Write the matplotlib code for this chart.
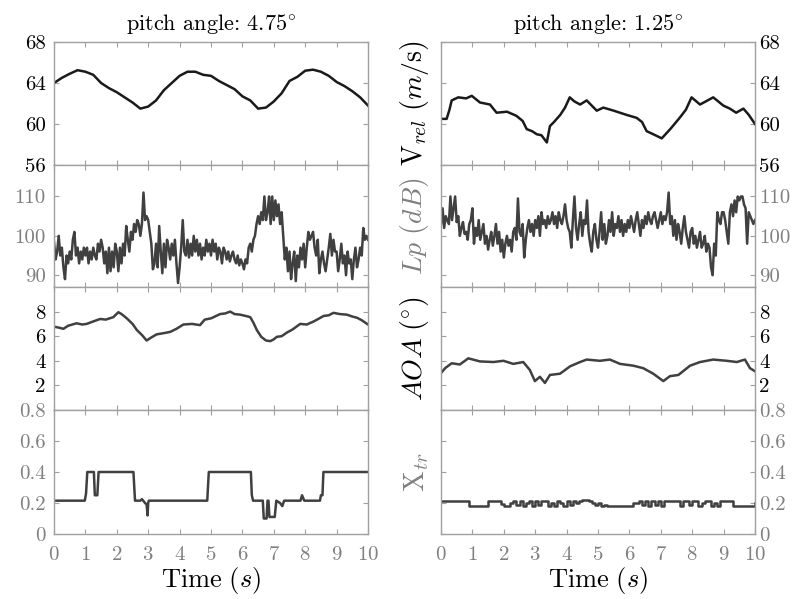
import numpy as np
import matplotlib
matplotlib.use('Agg')
import matplotlib.pyplot as plt

plt.rcParams['font.family'] = ['cmr10', 'DejaVu Serif']
plt.rcParams['mathtext.fontset'] = 'cm'
plt.rcParams['axes.unicode_minus'] = False
plt.rcParams['axes.formatter.use_mathtext'] = True

# ---- data ----
titles = ['pitch angle: $4.75^{\\circ}$', 'pitch angle: $1.25^{\\circ}$']

# relative velocity, sampled every 0.25 s (left) / irregular (right)
t_v_left = np.arange(0, 10.01, 0.25)
v_left = [64.0, 64.5, 64.9, 65.25, 65.1, 64.8, 64.0, 63.5, 63.1, 62.6, 62.1,
          61.5, 61.7, 62.3, 63.3, 64.0, 64.7, 65.1, 65.1, 64.8, 64.7, 64.2,
          63.8, 63.4, 62.7, 62.3, 61.5, 61.6, 62.2, 63.0, 64.2, 64.6, 65.2,
          65.3, 65.1, 64.7, 64.1, 63.7, 63.2, 62.6, 61.8]
t_v_right = [0, 0.18, 0.27, 0.34, 0.55, 0.8, 0.98, 1.24, 1.4, 1.56, 1.77, 2.1,
             2.4, 2.6, 2.73, 2.9, 3.05, 3.2, 3.37, 3.47, 3.6, 3.8, 3.95, 4.1,
             4.25, 4.43, 4.64, 4.96, 5.17, 5.5, 5.9, 6.23, 6.4, 6.55, 6.76,
             7.03, 7.3, 7.6, 7.8, 7.98, 8.25, 8.67, 8.99, 9.2, 9.4, 9.63, 9.8,
             10]
v_right = [60.5, 60.5, 61.4, 62.3, 62.6, 62.5, 62.75, 62.1, 62.0, 61.9, 61.1,
           61.2, 60.8, 60.3, 59.5, 59.3, 59.0, 58.9, 58.2, 59.8, 60.2, 60.9,
           61.6, 62.6, 62.2, 61.9, 62.3, 61.3, 61.6, 61.3, 60.9, 60.6, 60.2,
           59.3, 59.0, 58.6, 59.5, 60.6, 61.4, 62.6, 61.9, 62.6, 61.8, 61.5,
           61.1, 61.5, 60.9, 60.0]

# sound pressure level, sampled every 0.05 s
t_lp = np.arange(0, 10.001, 0.05)
lp_left = [98.5, 94, 96, 100, 95, 97, 92, 89, 95, 93, 96, 94, 99, 101, 95, 97, 93, 96, 94, 97,
           95, 97, 93, 96, 94, 97, 95, 94, 98, 96, 99, 97, 93, 96, 90.5, 97, 91, 96, 92, 98,
           96, 91, 97, 93, 98, 95, 102.5, 99, 96, 101, 99, 103, 101, 104, 103, 100, 103, 111, 104, 105,
           104, 101, 98, 91.5, 93, 98, 92, 102.5, 96, 90.5, 98, 92, 99, 97, 94, 98, 95, 99, 93, 88,
           92, 97, 104, 96, 95, 99, 94.5, 98, 95, 100, 96, 99, 95, 98, 94, 97, 95, 99, 96, 98,
           95, 99, 96, 98, 94, 97, 96, 93, 97, 96, 94, 96, 93.5, 95, 96, 94, 93, 95, 92.5, 94,
           93, 91.5, 94, 93, 97, 98, 96, 99, 100, 103, 105, 103, 106, 104, 110, 104, 106, 110, 103, 110,
           104, 109, 105, 108, 103, 106, 100, 94, 97, 91, 96, 89, 93, 96, 88.5, 95, 92, 97, 94, 98,
           92, 97, 101, 99, 100, 101, 97, 95, 99, 90.5, 94, 96, 93, 91, 94, 97, 100.5, 95, 99, 96,
           96, 91, 94, 98, 93, 95, 90, 96, 93, 94, 89, 94, 97, 92, 94, 97, 95, 102, 99, 100,
           99]
lp_right = [103, 107, 102, 105, 104, 103, 110, 104, 107, 110, 103.5, 105, 100, 102, 103.5, 100.5, 101, 99, 103, 104,
            107, 98, 102, 100, 104, 99, 101, 103, 98, 100, 96.5, 99, 101, 97.5, 100, 103, 98, 101, 96, 99,
            94.5, 98, 100, 97.5, 99, 96, 101, 102, 99, 109.5, 101, 100, 103, 94.5, 99, 102, 104, 101, 103, 100,
            104, 102, 105, 100, 106, 103, 104, 102, 105, 103, 104, 106, 103, 105, 102, 106, 104, 103, 105, 108,
            104, 102, 101, 97, 104, 110, 102, 99, 103, 106, 100, 104, 103, 109, 101, 98, 96, 101, 103, 99,
            97, 101, 106, 99, 103, 98, 100, 104, 101, 106, 100, 103, 102, 105, 101, 104, 100, 103, 101, 104,
            102, 105, 103, 101, 104, 106, 103, 100, 104, 102, 105, 103, 106, 104, 103, 105, 106, 104, 102, 104,
            106, 103, 105, 104, 106, 111, 103, 105, 100, 104, 99, 103, 101, 98, 102, 105, 101, 99, 97, 101,
            102, 98, 100, 97, 99, 101, 97, 98, 100, 96, 98, 97, 92, 90, 98, 95, 106, 104, 103, 106,
            106, 104, 101, 98, 106, 108, 105, 109, 106, 110, 109, 110, 110, 108, 107, 98, 106, 105, 104, 103,
            104]

# angle of attack
t_aoa_left = [0, 0.15, 0.3, 0.45, 0.72, 0.9, 1.04, 1.25, 1.47, 1.65, 1.89, 2.05,
              2.15, 2.32, 2.5, 2.64, 2.8, 2.95, 3.1, 3.27, 3.5, 3.7, 3.9, 4.12,
              4.4, 4.65, 4.8, 5.0, 5.29, 5.45, 5.61, 5.75, 5.93, 6.1, 6.25,
              6.35, 6.46, 6.6, 6.75, 6.89, 7.0, 7.1, 7.25, 7.42, 7.6, 7.84,
              8.05, 8.27, 8.45, 8.59, 8.75, 8.9, 9.1, 9.33, 9.5, 9.65, 9.8, 10]
aoa_left = [6.77, 6.7, 6.6, 6.85, 7.05, 6.95, 7.0, 7.2, 7.4, 7.35, 7.55, 7.95,
            7.8, 7.45, 7.0, 6.5, 6.1, 5.65, 5.9, 6.15, 6.25, 6.35, 6.6, 6.95,
            7.0, 6.9, 7.35, 7.45, 7.8, 7.85, 8.0, 7.8, 7.75, 7.65, 7.55, 7.1,
            6.5, 5.95, 5.65, 5.6, 5.75, 5.95, 6.0, 6.3, 6.55, 7.0, 6.95, 7.2,
            7.45, 7.65, 7.7, 7.9, 7.8, 7.75, 7.6, 7.5, 7.3, 6.95]
t_aoa_right = [0, 0.13, 0.34, 0.6, 0.87, 1.24, 1.67, 1.99, 2.3, 2.62, 2.83,
               2.99, 3.15, 3.31, 3.47, 3.79, 4.11, 4.43, 4.64, 5.06, 5.38, 5.7,
               6.13, 6.44, 6.76, 7.08, 7.29, 7.56, 7.93, 8.25, 8.67, 9.1, 9.42,
               9.68, 9.84, 10]
aoa_right = [3.0, 3.4, 3.8, 3.7, 4.2, 3.95, 3.9, 4.0, 3.75, 3.9, 3.25, 2.35,
             2.7, 2.2, 2.85, 2.95, 3.55, 3.9, 4.1, 4.0, 4.1, 3.75, 3.6, 3.4,
             2.95, 2.35, 2.75, 2.85, 3.6, 3.9, 4.1, 4.0, 3.9, 4.1, 3.4, 3.15]

# transition location
t_x_left = [0, 0.98, 1.02, 1.06, 1.27, 1.3, 1.38, 1.42, 2.53, 2.58, 2.75, 2.8,
            2.9, 2.95, 2.98, 3.0, 3.02, 4.88, 4.93, 6.27, 6.3, 6.34, 6.65, 6.68,
            6.77, 6.8, 6.83, 6.86, 7.03, 7.08, 7.2, 7.27, 7.33, 7.85, 7.9, 7.97,
            8.47, 8.5, 8.55, 8.58, 10]
x_left = [0.215, 0.215, 0.26, 0.4, 0.4, 0.25, 0.25, 0.4, 0.4, 0.215, 0.215,
          0.225, 0.2, 0.19, 0.12, 0.2, 0.215, 0.215, 0.4, 0.4, 0.25, 0.215,
          0.215, 0.1, 0.1, 0.215, 0.215, 0.11, 0.11, 0.215, 0.2, 0.18, 0.215,
          0.215, 0.25, 0.215, 0.215, 0.25, 0.25, 0.4, 0.4]
t_x_right = np.arange(0, 10.001, 0.1)
x_right = [0.215, 0.215, 0.215, 0.215, 0.215, 0.215, 0.21, 0.21, 0.21, 0.18,
           0.18, 0.18, 0.18, 0.18, 0.18, 0.215, 0.215, 0.215, 0.215, 0.195,
           0.18, 0.18, 0.2, 0.215, 0.19, 0.215, 0.18, 0.2, 0.215, 0.18,
           0.215, 0.19, 0.215, 0.215, 0.18, 0.2, 0.18, 0.215, 0.2, 0.18,
           0.215, 0.19, 0.215, 0.2, 0.215, 0.22, 0.22, 0.215, 0.2, 0.19,
           0.2, 0.18, 0.19, 0.18, 0.18, 0.18, 0.18, 0.18, 0.18, 0.18,
           0.18, 0.2, 0.2, 0.215, 0.19, 0.215, 0.18, 0.215, 0.19, 0.215,
           0.18, 0.215, 0.215, 0.215, 0.215, 0.215, 0.18, 0.215, 0.215, 0.19,
           0.215, 0.215, 0.18, 0.2, 0.215, 0.215, 0.18, 0.2, 0.18, 0.215,
           0.215, 0.215, 0.215, 0.18, 0.18, 0.18, 0.18, 0.18, 0.18, 0.18,
           0.2]

series = [
    [(t_v_left, v_left), (t_v_right, v_right)],
    [(t_lp, lp_left), (t_lp, lp_right)],
    [(t_aoa_left, aoa_left), (t_aoa_right, aoa_right)],
    [(t_x_left, x_left), (t_x_right, x_right)],
]
ylabels = [r'$\mathrm{V}_{rel}\ (m/\mathrm{s})$', r'$Lp\ (dB)$',
           r'$AOA\ (^{\circ})$', r'$\mathrm{X}_{tr}$']
ylims = [(56, 68), (87, 118), (0, 10), (0, 0.8)]
yticks = [[56, 60, 64, 68], [90, 100, 110], [2, 4, 6, 8],
          [0, 0.2, 0.4, 0.6, 0.8]]
yticklabels = [['56', '60', '64', '68'], ['90', '100', '110'],
               ['2', '4', '6', '8'], ['0', '0.2', '0.4', '0.6', '0.8']]
row_colors = ['black', '#808080', 'black', '#808080']
line_colors = ['#1a1a1a', '#404040', '#404040', '#404040']

# ---- layout ----
fig = plt.figure(figsize=(7.98, 5.99), dpi=100)
W, H = 798, 599
col_x = [54, 441]
col_w = 314
row_y = [42, 165, 287, 410, 534]

for r in range(4):
    for c in range(2):
        y0, y1 = row_y[r], row_y[r + 1]
        ax = fig.add_axes([col_x[c] / W, 1 - y1 / H, col_w / W, (y1 - y0) / H])
        t, v = series[r][c]
        if r == 3 and c == 1:
            ax.plot(t, v, color=line_colors[r], lw=1.8, drawstyle='steps-post')
        else:
            ax.plot(t, v, color=line_colors[r], lw=1.8)
        ax.set_xlim(0, 10)
        ax.set_ylim(*ylims[r])
        ax.set_xticks(range(11))
        ax.set_yticks(yticks[r])
        ax.set_yticklabels(yticklabels[r])
        for s in ax.spines.values():
            s.set_color('#a0a0a0')
            s.set_linewidth(1.0)
        ax.tick_params(direction='in', length=3.5, width=0.8, color='#a0a0a0',
                       top=True, right=True, bottom=True, left=True,
                       labelsize=15)
        ax.tick_params(axis='y', labelcolor=row_colors[r])
        ax.tick_params(axis='x', labelcolor='#808080', pad=9)
        if c == 1:
            ax.tick_params(axis='y', labelleft=False, labelright=True, pad=3)
            ax.set_ylabel(ylabels[r], fontsize=20, color=row_colors[r],
                          labelpad=7)
        else:
            ax.tick_params(axis='y', pad=6)
        if r < 3:
            ax.tick_params(axis='x', labelbottom=False)
        else:
            ax.set_xlabel(r'$\mathrm{Time}\ (s)$', fontsize=19, labelpad=0)
        if r == 0:
            ax.set_title(titles[c], fontsize=16, pad=9)

fig.savefig('out.png', dpi=100)
